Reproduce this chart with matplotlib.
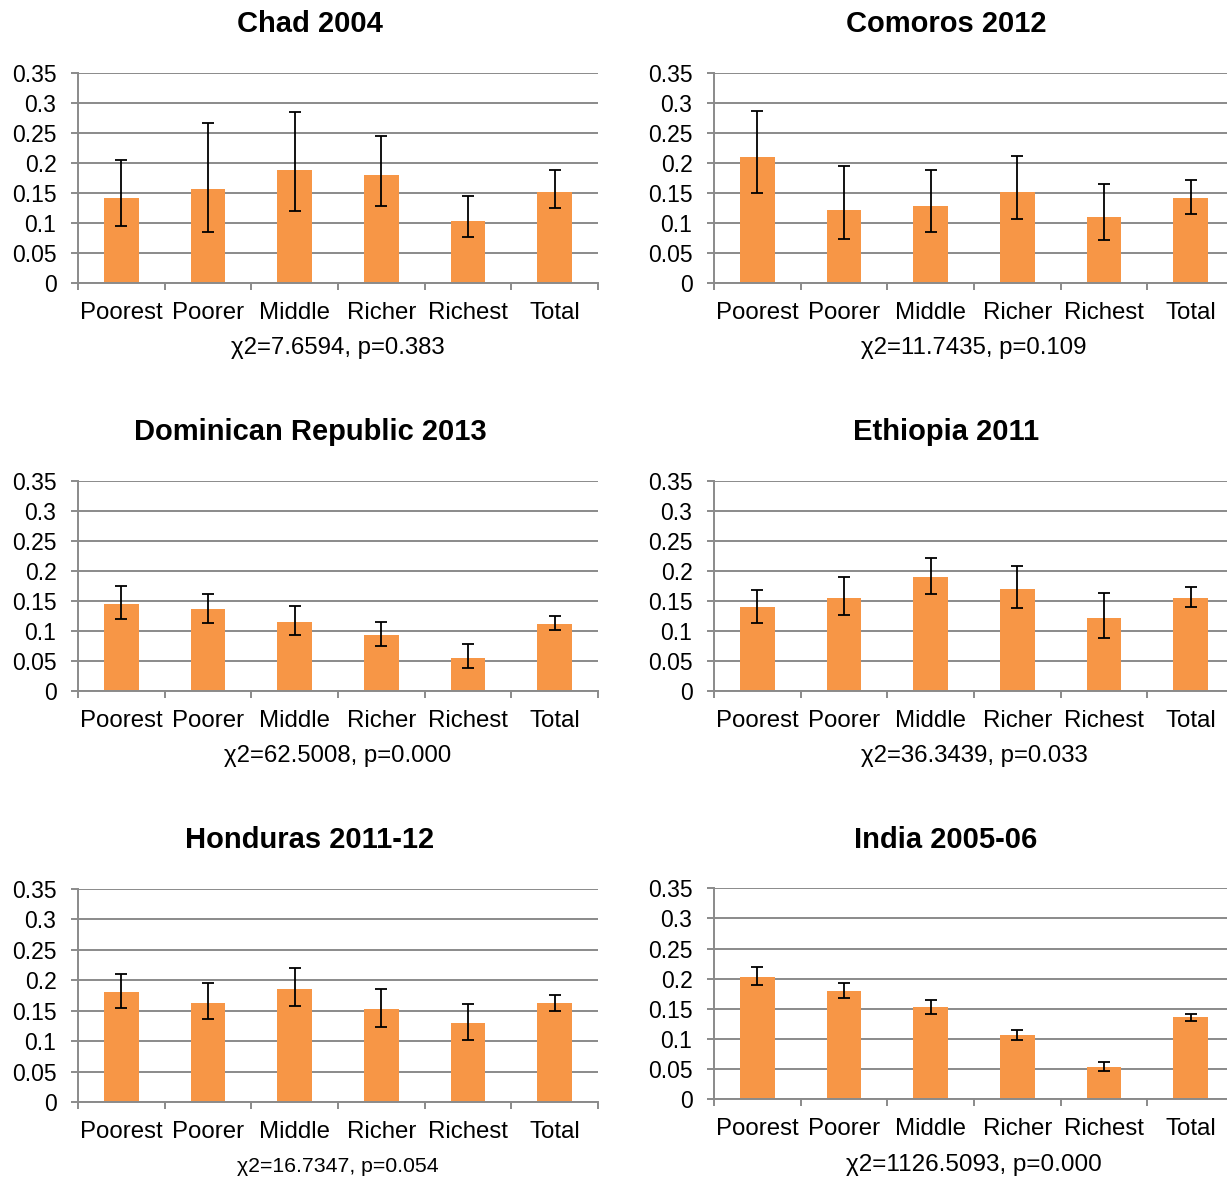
import matplotlib
matplotlib.use("Agg")
import matplotlib.pyplot as plt
import numpy as np

plt.rcParams['font.family'] = ['Liberation Sans', 'DejaVu Sans']

categories = ["Poorest", "Poorer", "Middle", "Richer", "Richest", "Total"]

# Proportions by wealth quintile with lower / upper confidence bounds
chad_2004 = [0.141, 0.156, 0.188, 0.179, 0.104, 0.152]
chad_2004_lo = [0.095, 0.085, 0.119, 0.128, 0.076, 0.125]
chad_2004_hi = [0.204, 0.267, 0.285, 0.245, 0.144, 0.188]

comoros_2012 = [0.210, 0.121, 0.128, 0.151, 0.110, 0.141]
comoros_2012_lo = [0.149, 0.073, 0.085, 0.106, 0.072, 0.115]
comoros_2012_hi = [0.286, 0.194, 0.188, 0.211, 0.165, 0.171]

dominican_2013 = [0.144, 0.136, 0.115, 0.093, 0.055, 0.112]
dominican_2013_lo = [0.119, 0.113, 0.093, 0.075, 0.039, 0.101]
dominican_2013_hi = [0.174, 0.161, 0.142, 0.115, 0.079, 0.124]

ethiopia_2011 = [0.139, 0.155, 0.190, 0.170, 0.122, 0.155]
ethiopia_2011_lo = [0.114, 0.126, 0.161, 0.138, 0.089, 0.140]
ethiopia_2011_hi = [0.168, 0.190, 0.222, 0.208, 0.163, 0.173]

honduras_2011 = [0.180, 0.163, 0.186, 0.152, 0.129, 0.162]
honduras_2011_lo = [0.154, 0.136, 0.157, 0.124, 0.102, 0.150]
honduras_2011_hi = [0.210, 0.195, 0.220, 0.186, 0.161, 0.176]

india_2005 = [0.203, 0.179, 0.153, 0.106, 0.053, 0.136]
india_2005_lo = [0.190, 0.167, 0.142, 0.098, 0.047, 0.130]
india_2005_hi = [0.219, 0.192, 0.165, 0.115, 0.061, 0.141]

titles = ["Chad 2004", "Comoros 2012", "Dominican Republic 2013",
          "Ethiopia 2011", "Honduras 2011-12", "India 2005-06"]
stats = ["χ2=7.6594, p=0.383", "χ2=11.7435, p=0.109", "χ2=62.5008, p=0.000",
         "χ2=36.3439, p=0.033", "χ2=16.7347, p=0.054", "χ2=1126.5093, p=0.000"]

panels = [
    (chad_2004, chad_2004_lo, chad_2004_hi),
    (comoros_2012, comoros_2012_lo, comoros_2012_hi),
    (dominican_2013, dominican_2013_lo, dominican_2013_hi),
    (ethiopia_2011, ethiopia_2011_lo, ethiopia_2011_hi),
    (honduras_2011, honduras_2011_lo, honduras_2011_hi),
    (india_2005, india_2005_lo, india_2005_hi),
]

W, H = 1227, 1180
fig = plt.figure(figsize=(W / 100, H / 100), dpi=100)

# layout in pixels: left, right, top, bottom, title x, title y, stat y, stat size
layout = [
    (78, 598, 72.7, 283, 310, 24, 348, 17.3),
    (714, 1234, 72.7, 283, 946, 24, 348, 17.3),
    (78, 598, 480.7, 691, 310, 432, 756, 17.3),
    (714, 1234, 480.7, 691, 946, 432, 756, 17.3),
    (78, 598, 889, 1102, 310, 840, 1166, 15.3),
    (714, 1234, 888.3, 1099, 946, 840, 1165, 17.5),
]

BAR = '#F79646'
GRID = '#8A8A8A'
yticks = [0, 0.05, 0.1, 0.15, 0.2, 0.25, 0.3, 0.35]
ylabels = ["0", "0.05", "0.1", "0.15", "0.2", "0.25", "0.3", "0.35"]

for (vals, lo, hi), title, stat, (l, r, t, b, tx, ty, sy, ss) in zip(panels, titles, stats, layout):
    ax = fig.add_axes([l / W, 1 - b / H, (r - l) / W, (b - t) / H])
    vals = np.array(vals)
    lo = np.array(lo)
    hi = np.array(hi)
    x = np.arange(len(categories))
    ax.bar(x, vals, width=0.4, color=BAR, zorder=2)
    ax.errorbar(x, vals, yerr=[vals - lo, hi - vals], fmt='none', ecolor='black',
                elinewidth=1.3, capsize=4, capthick=1.3, zorder=3)
    ax.set_xlim(-0.5, 5.5)
    ax.set_ylim(0, 0.35)
    ax.set_yticks(yticks)
    ax.set_yticklabels(ylabels, fontsize=16.5)
    ax.set_xticks(np.arange(7) - 0.5)
    ax.set_xticklabels([""] * 7)
    ax.set_xticks(x, minor=True)
    ax.set_xticklabels(categories, minor=True, fontsize=17.3)
    ax.tick_params(axis='x', which='major', length=5, width=1.4, color=GRID)
    ax.tick_params(axis='x', which='minor', length=0, pad=14)
    ax.tick_params(axis='y', length=5, width=1.4, color=GRID, pad=10.5)
    ax.grid(axis='y', color=GRID, linewidth=1.4, zorder=0)
    ax.set_axisbelow(True)
    for s in ['top', 'right']:
        ax.spines[s].set_visible(False)
    for s in ['left', 'bottom']:
        ax.spines[s].set_color(GRID)
        ax.spines[s].set_linewidth(1.4)
    ax.patch.set_alpha(0)
    fig.text(tx / W, 1 - ty / H, title, ha='center', va='center',
             fontsize=21, fontweight='bold')
    fig.text((l + r) / 2 / W, 1 - sy / H, stat, ha='center', va='center', fontsize=ss)

fig.savefig("out.png", dpi=100, facecolor='white')
